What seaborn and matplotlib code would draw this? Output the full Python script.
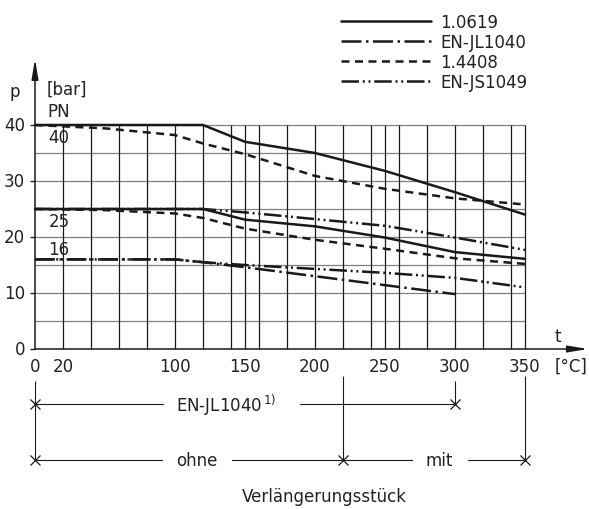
import pandas as pd
import seaborn as sns
import matplotlib.pyplot as plt
from matplotlib.lines import Line2D

# values: temperature [°C], pressure [bar]
t_10619 = [0, 120, 150, 200, 250, 300, 350]
p_10619_pn40 = [40, 40, 37, 35, 31.8, 28, 24]
p_10619_pn25 = [25, 25, 23.1, 21.9, 19.9, 17.3, 16.1]

t_14408 = [0, 50, 100, 120, 150, 200, 250, 300, 350]
p_14408_pn40 = [40, 39.4, 38.2, 36.7, 34.8, 30.9, 28.6, 26.9, 25.8]
p_14408_pn25 = [25, 24.8, 24.2, 23.4, 21.5, 19.5, 17.9, 16.2, 15.2]

t_js1049_pn25 = [0, 120, 150, 200, 250, 300, 350]
p_js1049_pn25 = [25, 25, 24.4, 23.2, 22.0, 19.9, 17.7]
t_js1049_pn16 = [0, 100, 120, 150, 200, 250, 300, 350]
p_js1049_pn16 = [16, 16, 15.5, 15.0, 14.3, 13.6, 12.7, 11.0]

t_jl1040_pn16 = [0, 100, 120, 150, 200, 250, 300]
p_jl1040_pn16 = [16, 16, 15.5, 14.6, 13.0, 11.4, 9.8]

materials = ["1.0619", "EN-JL1040", "1.4408", "EN-JS1049"]
pn_levels = [40, 25, 16]
x_ticks = [0, 20, 100, 150, 200, 250, 300, 350]
y_ticks = [0, 10, 20, 30, 40]
grid_t = list(range(20, 341, 20)) + [150, 250, 350]
grid_p = list(range(5, 41, 5))

# temperature ranges shown under the diagram
range_jl1040 = (0, 300)
range_ohne = (0, 220)
range_mit = (220, 350)

sns.set_theme(style="white")
plt.rcParams["font.family"] = ["DejaVu Sans"]
plt.rcParams["text.color"] = "#222222"

lw = 1.8
styles = {
    "1.0619": "-",
    "EN-JL1040": (0, (8, 1.8, 1, 1.8)),
    "1.4408": (0, (3.2, 2.2)),
    "EN-JS1049": (0, (7, 1.5, 0.8, 1.5, 0.8, 1.5)),
}
ink = "#1a1a1a"

fig = plt.figure(figsize=(5.89, 5.1), dpi=100)
ax = fig.add_axes([0, 0, 1, 1])

# grid
ax.hlines(grid_p, 0, 350, color="#808080", lw=0.9, zorder=1)
ax.vlines(grid_t, 0, 40, color=ink, lw=0.9, zorder=1)

curves = [
    ("1.0619", t_10619, p_10619_pn40),
    ("1.0619", t_10619, p_10619_pn25),
    ("1.4408", t_14408, p_14408_pn40),
    ("1.4408", t_14408, p_14408_pn25),
    ("EN-JS1049", t_js1049_pn25, p_js1049_pn25),
    ("EN-JS1049", t_js1049_pn16, p_js1049_pn16),
    ("EN-JL1040", t_jl1040_pn16, p_jl1040_pn16),
]
for name, t, p in curves:
    df = pd.DataFrame({"t": t, "p": p})
    sns.lineplot(data=df, x="t", y="p", ax=ax, color=ink, lw=lw,
                 linestyle=styles[name], estimator=None, legend=False,
                 zorder=3)

ax.set_xlim(-25, 589 / 1.4 - 25)
ax.set_ylim(62.5 - 510 / 5.6, 62.5)
ax.set_axis_off()

# axes with arrows
arrow = dict(arrowstyle="-|>,head_length=1.2,head_width=0.2", color=ink,
             lw=1.1, mutation_scale=10, shrinkA=0, shrinkB=0)
ax.annotate("", xy=(0, 51.8), xytext=(0, 0), arrowprops=arrow, zorder=4)
ax.annotate("", xy=(395, 0), xytext=(0, 0), arrowprops=arrow, zorder=4)
ax.hlines(y_ticks, -3.6, 0, color=ink, lw=1.0)

for y in y_ticks:
    ax.text(-7, y, str(y), ha="right", va="center", fontsize=12)
for x in x_ticks:
    ax.text(x, -3.0, str(x), ha="center", va="center", fontsize=12)
ax.text(383, -3.0, "[°C]", ha="center", va="center", fontsize=12)
ax.text(373.6, 2.4, "t", ha="center", va="center", fontsize=12)
ax.text(-14.3, 46.1, "p", ha="center", va="center", fontsize=12)
ax.text(8.6, 46.4, "[bar]", ha="left", va="center", fontsize=12)
ax.text(8.6, 42.5, "PN", ha="left", va="center", fontsize=12)
for lvl in pn_levels:
    ax.text(9.5, lvl - 2.2 if lvl != 16 else lvl + 1.9, str(lvl),
            ha="left", va="center", fontsize=12)

# legend
handles = [Line2D([], [], color=ink, lw=lw, ls=styles[m]) for m in materials]
ax.legend(handles, materials, loc="upper left",
          bbox_to_anchor=(341 / 589, 1 - 14 / 510),
          bbox_transform=fig.transFigure, frameon=False, borderpad=0,
          borderaxespad=0, handlelength=5.4, handletextpad=0.55,
          labelspacing=0.12, fontsize=12)

# range bars under the diagram
thin = dict(color=ink, lw=0.8)
row1, row2 = -9.9, -19.9
ax.plot([range_jl1040[0], 91.6], [row1, row1], **thin)
ax.plot([189, range_jl1040[1]], [row1, row1], **thin)
ax.text(100.7, row1, "EN-JL1040$^{\\,1)}$", ha="left", va="center", fontsize=12)
ax.plot([range_ohne[0], 90.5], [row2, row2], **thin)
ax.plot([140.5, range_ohne[1]], [row2, row2], **thin)
ax.text(115.7, row2, "ohne", ha="center", va="center", fontsize=12)
ax.plot([range_mit[0], 269], [row2, row2], **thin)
ax.plot([309, range_mit[1]], [row2, row2], **thin)
ax.text(289, row2, "mit", ha="center", va="center", fontsize=12)
ax.vlines([range_jl1040[0]], -5.7, row2, **thin)
ax.vlines([range_jl1040[1]], -5.7, row1, **thin)
ax.vlines([range_mit[0], range_mit[1]], -4.8, row2, **thin)
ax.plot(list(range_jl1040), [row1, row1], ls="none", marker="x", ms=7,
        mew=0.9, color=ink)
ax.plot([range_ohne[0], range_mit[0], range_mit[1]], [row2] * 3, ls="none",
        marker="x", ms=7, mew=0.9, color=ink)
ax.text(207, -26.3, "Verlängerungsstück", ha="center", va="center",
        fontsize=12)

fig.savefig("out.png", dpi=100)
